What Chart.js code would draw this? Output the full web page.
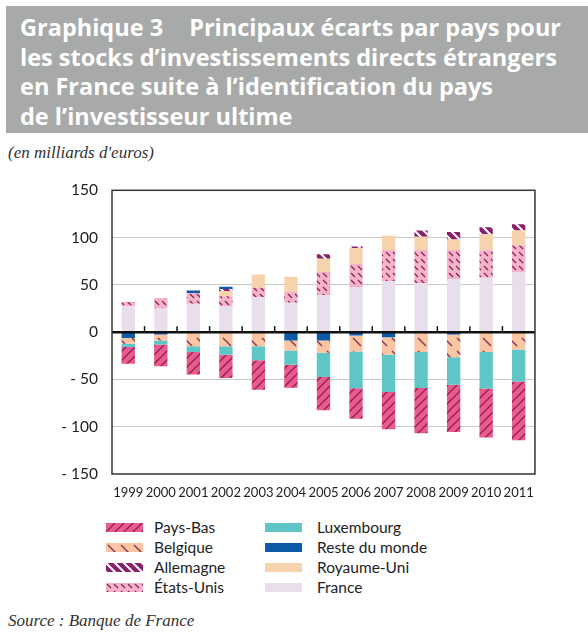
<!DOCTYPE html>
<html>
<head>
<meta charset="utf-8">
<script src="https://cdn.jsdelivr.net/npm/chart.js@4.4.1/dist/chart.umd.min.js"></script>
<style>
  html, body { margin: 0; padding: 0; background: #fff; }
  body { width: 588px; height: 634px; position: relative; overflow: hidden; font-family: Lato, "Open Sans", sans-serif; }
  #banner { position: absolute; left: 6px; top: 6px; width: 582px; height: 127px; background: #a8aaa9; }
  #title { position: absolute; left: 20px; top: 13px; color: #fff; font-family: "Open Sans", sans-serif; font-weight: 700; font-size: 23.5px; line-height: 29.5px; white-space: nowrap; }
  #title .num { margin-right: 26px; }
  #unit { position: absolute; left: 8px; top: 143px; font-family: "Liberation Serif", serif; font-style: italic; font-size: 17px; color: #333; }
  #source { position: absolute; left: 8px; top: 611px; font-family: "Liberation Serif", serif; font-style: italic; font-size: 17px; color: #333; }
  #chartBox { position: absolute; left: 0; top: 167px; width: 545px; height: 337px; }
  .lg { position: absolute; font-family: Lato, sans-serif; font-size: 15.5px; color: #222; line-height: 18px; white-space: nowrap; }
  .sw { position: absolute; }
</style>
</head>
<body>
<div id="banner"></div>
<div id="title"><span class="num">Graphique 3</span>Principaux écarts par pays pour<br>les stocks d’investissements directs étrangers<br>en France suite à l’identification du pays<br>de l’investisseur ultime</div>
<div id="unit">(en milliards d'euros)</div>
<div id="chartBox"><canvas id="c"></canvas></div>
<div id="legend"></div>
<div id="source">Source : Banque de France</div>
<script>
// ---- Data (milliards d'euros) ----
const years = ['1999','2000','2001','2002','2003','2004','2005','2006','2007','2008','2009','2010','2011'];
const france       = [27, 25, 30, 27, 37, 31, 39, 47.5, 54, 52, 56, 57.5, 63.5];
const etatsUnis    = [5, 11, 11.5, 11, 10, 11.5, 24.5, 24.5, 33, 35, 31, 29, 28];
const royaumeUni   = [0, 0, 0, 5.5, 14, 16, 14, 17, 15, 14, 11, 17, 16];
const allemagne    = [0, 0, 0, 2, 0, 0, 5, 1.5, 0, 6.5, 8, 7.5, 6.5];
const resteDuMonde = [-6.3, -2.5, 2.5, 2.5, 0, -8.8, -8.8, -3.5, -5.3, 0, -2.5, 0, 0];
const belgique     = [-6, -6.3, -14.8, -14.8, -14.8, -10.6, -13, -17, -18.7, -21, -24, -21, -18.3];
const luxembourg   = [-3.5, -4.2, -6.3, -9.2, -15, -15, -25.7, -38.7, -39.4, -38, -29, -38.7, -33.8];
const paysBas      = [-17.6, -23, -23.6, -24.6, -31, -24.3, -35.2, -32.4, -39.4, -48, -50, -51.8, -62.3];
const yTicks = [-150, -100, -50, 0, 50, 100, 150];

// ---- Pattern tiles ----
function tile(bg, fg, kind, size, lw, seg) {
  size = size || 8;
  const c = document.createElement('canvas');
  c.width = c.height = size;
  const x = c.getContext('2d');
  x.fillStyle = bg; x.fillRect(0, 0, size, size);
  if (fg) {
    x.strokeStyle = fg; x.lineWidth = lw; x.lineCap = 'butt';
    x.beginPath();
    const a = seg ? seg[0] : -1, b = seg ? seg[1] : size + 1;
    if (kind === '/') {
      x.moveTo(a, size - a); x.lineTo(b, size - b);
      if (!seg) { x.moveTo(-size/2 - 1, size/2 + 1); x.lineTo(size/2 + 1, -size/2 - 1);
                  x.moveTo(size/2 - 1, size*1.5 + 1); x.lineTo(size*1.5 + 1, size/2 - 1); }
    } else {
      x.moveTo(a, a); x.lineTo(b, b);
      if (!seg) { x.moveTo(-size/2 - 1, size/2 - 1); x.lineTo(size/2 + 1, size*1.5 + 1);
                  x.moveTo(size/2 - 1, -size/2 - 1); x.lineTo(size*1.5 + 1, size/2 + 1); }
    }
    x.stroke();
  }
  return c;
}
const tiles = {
  paysBas:    tile('#ea5a8c', '#8c2157', '/', 9, 1.3, null),
  belgique:   tile('#f9c5a2', '#8c3456', '\\', 13, 1.4, [2, 10]),
  allemagne:  tile('#8a1f6d', '#ffffff', '\\', 9, 2, null),
  etatsUnis:  tile('#f5b3ca', '#8c2157', '\\', 7, 1.3, [1, 5]),
  luxembourg: tile('#5ec6c6'),
  reste:      tile('#0d5ba8'),
  royaume:    tile('#f6d3ac'),
  france:     tile('#e9deec')
};
const canvas = document.getElementById('c');
const cx = canvas.getContext('2d');
const pat = k => cx.createPattern(tiles[k], 'repeat');

const series = [
  { label: 'France',         data: france,       key: 'france' },
  { label: 'États-Unis',     data: etatsUnis,    key: 'etatsUnis' },
  { label: 'Royaume-Uni',    data: royaumeUni,   key: 'royaume' },
  { label: 'Allemagne',      data: allemagne,    key: 'allemagne' },
  { label: 'Reste du monde', data: resteDuMonde, key: 'reste' },
  { label: 'Belgique',       data: belgique,     key: 'belgique' },
  { label: 'Luxembourg',     data: luxembourg,   key: 'luxembourg' },
  { label: 'Pays-Bas',       data: paysBas,      key: 'paysBas' }
];

const framePlugin = {
  id: 'frame',
  afterDatasetsDraw(chart) {
    const { ctx, chartArea: a, scales } = chart;
    const y0 = scales.y.getPixelForValue(0);
    ctx.save();
    ctx.strokeStyle = '#111'; ctx.lineWidth = 2.5;
    ctx.beginPath(); ctx.moveTo(a.left, y0); ctx.lineTo(a.right, y0); ctx.stroke();
    ctx.lineWidth = 1.5;
    for (let i = 0; i < years.length - 1; i++) {
      const xm = (scales.x.getPixelForTick(i) + scales.x.getPixelForTick(i + 1)) / 2;
      ctx.beginPath(); ctx.moveTo(xm, y0); ctx.lineTo(xm, y0 - 6); ctx.stroke();
    }
    ctx.strokeStyle = '#333'; ctx.lineWidth = 1.5;
    ctx.strokeRect(a.left, a.top, a.right - a.left, a.bottom - a.top);
    ctx.restore();
  }
};

new Chart(canvas, {
  type: 'bar',
  data: {
    labels: years,
    datasets: series.map(s => ({
      label: s.label, data: s.data, backgroundColor: pat(s.key),
      borderWidth: 0, barPercentage: 0.82, categoryPercentage: 0.5
    }))
  },
  options: {
    responsive: true, maintainAspectRatio: false, animation: false,
    layout: { padding: { top: 0, right: 6, left: 0, bottom: 0 } },
    plugins: { legend: { display: false }, tooltip: { enabled: false } },
    scales: {
      x: {
        stacked: true,
        grid: { display: false, drawTicks: false },
        border: { display: false },
        ticks: { autoSkip: false, maxRotation: 0, padding: 11, color: '#222',
                 font: { family: 'Lato', size: 13 } },
        afterFit: s => { s.height = 30; }
      },
      y: {
        stacked: true, min: -150, max: 150,
        afterBuildTicks: s => { s.ticks = yTicks.map(v => ({ value: v })); },
        grid: { drawTicks: false, lineWidth: 1,
                color: c => (c.tick && (c.tick.value === 0 || Math.abs(c.tick.value) === 150)) ? 'rgba(0,0,0,0)' : '#c9c9c9' },
        border: { display: false },
        ticks: { padding: 14, color: '#222', font: { family: 'Lato', size: 15.5 },
                 callback: v => v < 0 ? '- ' + Math.abs(v) : String(v) },
        afterFit: s => { s.width = 112; }
      }
    }
  },
  plugins: [framePlugin]
});

// ---- HTML legend (two columns) ----
const legendItems = [
  { label: 'Pays-Bas', key: 'paysBas', col: 0, row: 0 },
  { label: 'Belgique', key: 'belgique', col: 0, row: 1 },
  { label: 'Allemagne', key: 'allemagne', col: 0, row: 2 },
  { label: 'États-Unis', key: 'etatsUnis', col: 0, row: 3 },
  { label: 'Luxembourg', key: 'luxembourg', col: 1, row: 0 },
  { label: 'Reste du monde', key: 'reste', col: 1, row: 1 },
  { label: 'Royaume-Uni', key: 'royaume', col: 1, row: 2 },
  { label: 'France', key: 'france', col: 1, row: 3 }
];
const lg = document.getElementById('legend');
legendItems.forEach(it => {
  const yc = 527 + it.row * 20;
  const sx = it.col === 0 ? 106 : 265;
  const tx = it.col === 0 ? 154 : 317;
  const sw = document.createElement('canvas');
  sw.width = 37; sw.height = 9; sw.className = 'sw';
  sw.style.left = sx + 'px'; sw.style.top = (yc - 4.5) + 'px';
  const sc = sw.getContext('2d');
  sc.fillStyle = sc.createPattern(tiles[it.key], 'repeat');
  sc.fillRect(0, 0, 37, 9);
  lg.appendChild(sw);
  const t = document.createElement('div');
  t.className = 'lg'; t.textContent = it.label;
  t.style.left = tx + 'px'; t.style.top = (yc - 9) + 'px';
  lg.appendChild(t);
});
</script>
</body>
</html>
